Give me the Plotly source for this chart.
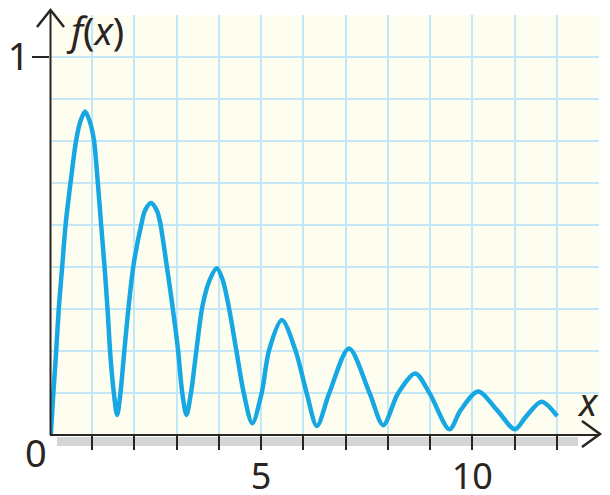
import plotly.graph_objects as go

# ---- data ----
x_vals = [0.02, 0.08, 0.14, 0.21, 0.29, 0.37, 0.49, 0.62, 0.72, 0.83, 0.94, 1.04, 1.13, 1.21, 1.29, 1.36, 1.43, 1.51,
          1.59, 1.67, 1.75, 1.86, 1.98, 2.17, 2.25, 2.39, 2.53, 2.61, 2.76, 2.90, 3.03, 3.13,
          3.23, 3.34, 3.47, 3.61, 3.78, 3.95, 4.09, 4.24, 4.41, 4.59,
          4.79, 5.01, 5.19, 5.49, 5.81, 6.08,
          6.32, 6.61, 7.08, 7.57,
          7.89, 8.24, 8.65, 8.99,
          9.46, 9.72, 10.14, 10.59,
          11.01, 11.28, 11.64, 12.01]
y_vals = [0.00, 0.113, 0.21, 0.338, 0.447, 0.557, 0.671, 0.78, 0.83, 0.856, 0.83, 0.78, 0.671, 0.557, 0.447, 0.338, 0.21, 0.113,
          0.053, 0.113, 0.21, 0.338, 0.451, 0.561, 0.594, 0.614, 0.594, 0.561, 0.451, 0.341, 0.227, 0.113,
          0.053, 0.113, 0.227, 0.341, 0.41, 0.441, 0.41, 0.335, 0.225, 0.110,
          0.031, 0.110, 0.225, 0.304, 0.225, 0.110,
          0.024, 0.110, 0.229, 0.110,
          0.026, 0.110, 0.163, 0.110,
          0.015, 0.065, 0.115, 0.065,
          0.015, 0.050, 0.088, 0.050]

x_tickvals = [1, 2, 3, 4, 5, 6, 7, 8, 9, 10, 11, 12]
x_ticktext = ["", "", "", "", "5", "", "", "", "", "10", "", ""]
y_tickvals = [1]
y_ticktext = ["1"]
x_range = [0, 13]
y_range = [0, 10 / 9]

# ---- styling ----
W, H = 610, 495
ML, MR, MT, MB = 50, 11, 15, 60
PW, PH = W - ML - MR, H - MT - MB
INK = "#2a2422"
BLUE = "#17a8e3"
GRID = "#c4e7f8"
FONT = "Noto Sans"
FS = 38


def px(X):
    return (X - ML) / PW


def py(Y):
    return (H - MB - Y) / PH


fig = go.Figure()
fig.add_trace(go.Scatter(x=x_vals, y=y_vals, mode="lines",
                         line=dict(color=BLUE, width=4.5, shape="spline", smoothing=0.85),
                         hoverinfo="skip", showlegend=False))

fig.update_xaxes(range=x_range, tickmode="array", tickvals=x_tickvals, ticktext=x_ticktext,
                 ticks="outside", ticklen=14, tickwidth=2, tickcolor=INK,
                 showgrid=True, gridcolor=GRID, gridwidth=1.5, zeroline=False, showline=False,
                 minor=dict(dtick=1, tick0=0, showgrid=True, gridcolor=GRID, gridwidth=1.5),
                 tickfont=dict(family=FONT, size=36, color=INK), ticklabelstandoff=-4)
fig.update_yaxes(range=y_range, tickmode="array", tickvals=y_tickvals, ticktext=y_ticktext,
                 ticks="outside", ticklen=17, tickwidth=2, tickcolor=INK,
                 showgrid=True, gridcolor=GRID, gridwidth=1.5, zeroline=False, showline=False,
                 minor=dict(dtick=1 / 9, tick0=0, showgrid=True, gridcolor=GRID, gridwidth=1.5),
                 tickfont=dict(family=FONT, size=FS, color=INK), ticklabelstandoff=-5)

shapes = [
    # shadow under the x axis
    dict(type="rect", xref="paper", yref="paper", x0=px(57), x1=px(578), y0=py(446), y1=py(437),
         fillcolor="#d4d5d7", line=dict(width=0), layer="below"),
    # axes
    dict(type="line", xref="paper", yref="paper", x0=px(50), x1=px(599), y0=py(435), y1=py(435),
         line=dict(color=INK, width=2)),
    dict(type="line", xref="paper", yref="paper", x0=px(50.5), x1=px(50.5), y0=py(435), y1=py(11),
         line=dict(color=INK, width=2)),
    # arrow heads
    dict(type="path", xref="paper", yref="paper",
         path=f"M {px(582)} {py(421)} L {px(600)} {py(434)} L {px(582)} {py(447)}",
         line=dict(color=INK, width=2.5)),
    dict(type="path", xref="paper", yref="paper",
         path=f"M {px(37)} {py(27)} L {px(50.5)} {py(10)} L {px(64)} {py(27)}",
         line=dict(color=INK, width=2.5)),
]
for s in shapes:
    fig.add_shape(**s)

ann_font = dict(family=FONT, size=FS, color=INK)
fig.add_annotation(x=px(36), y=py(452), xref="paper", yref="paper", text="0", showarrow=False,
                   font=ann_font, xanchor="center", yanchor="middle")
fig.add_annotation(x=px(64), y=py(30), xref="paper", yref="paper", text="<i>f</i>(<i>x</i>)",
                   showarrow=False, font=ann_font, xanchor="left", yanchor="middle")
fig.add_annotation(x=px(588), y=py(401), xref="paper", yref="paper", text="<i>x</i>",
                   showarrow=False, font=ann_font, xanchor="center", yanchor="middle")

fig.update_layout(width=W, height=H, margin=dict(l=ML, r=MR, t=MT, b=MB, autoexpand=False),
                  paper_bgcolor="white", plot_bgcolor="#fdfdf0", showlegend=False)

fig.write_html("out.html", config={"displayModeBar": False},
               post_script="document.body.style.margin='0';")
